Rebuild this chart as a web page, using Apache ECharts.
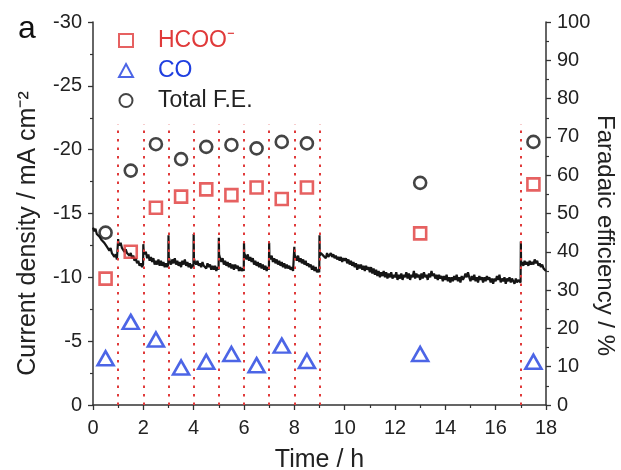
<!DOCTYPE html>
<html>
<head>
<meta charset="utf-8">
<script src="https://cdn.jsdelivr.net/npm/echarts@6/dist/echarts.min.js"></script>
<style>html,body{margin:0;padding:0;background:#fff}#c{width:621px;height:470px}</style>
</head>
<body>
<div id="c"></div>
<script>
// ---- data ----
const sampleTimes = [0.5, 1.5, 2.5, 3.5, 4.5, 5.5, 6.5, 7.5, 8.5, 13, 17.5];
const feHCOO = [33, 40, 51.5, 54.4, 56.3, 54.8, 56.8, 53.8, 56.8, 44.8, 57.6];
const feCO = [12.2, 21.7, 17.1, 9.8, 11.3, 13.3, 10.4, 15.5, 11.5, 13.3, 11.3];
const feTotal = [45, 61.2, 68.1, 64.2, 67.4, 67.9, 67.0, 68.7, 68.3, 58.0, 68.7];
const switchTimes = [1, 2, 3, 4, 5, 6, 7, 8, 9, 17];
const switchLineTop = -22;
const currentDensity = [
[0,-13.9],[0.05,-13.6],[0.1,-13.8],[0.15,-13.4],[0.2,-13.5],[0.25,-13.2],[0.3,-13.3],[0.35,-12.9],[0.4,-13.0],[0.45,-12.7],[0.5,-12.8],[0.55,-12.4],[0.6,-12.5],[0.65,-12.1],[0.7,-12.3],[0.75,-11.9],[0.8,-12.0],[0.85,-11.6],[0.9,-11.8],[0.95,-11.4],[0.99,-11.5],
[1.0,-13.0],[1.01,-12.7],
[1.05,-12.5],[1.1,-12.7],[1.15,-12.3],[1.2,-12.4],[1.25,-12.0],[1.3,-12.2],[1.35,-11.9],[1.4,-12.0],[1.45,-11.7],[1.5,-11.9],[1.55,-11.5],[1.6,-11.7],[1.65,-11.3],[1.7,-11.5],[1.75,-11.1],[1.8,-11.3],[1.85,-10.9],[1.9,-11.1],[1.95,-10.8],[1.99,-11.0],
[2.0,-12.6],[2.01,-12.2],
[2.05,-11.8],[2.1,-12.0],[2.15,-11.5],[2.2,-11.8],[2.25,-11.3],[2.3,-11.6],[2.35,-11.2],[2.4,-11.5],[2.45,-11.0],[2.5,-11.3],[2.55,-11.0],[2.6,-11.4],[2.65,-10.9],[2.7,-11.3],[2.75,-10.9],[2.8,-11.2],[2.85,-10.8],[2.9,-11.1],[2.95,-10.8],[2.99,-11.0],
[3.0,-13.3],[3.01,-11.6],
[3.05,-11.3],[3.1,-11.0],[3.15,-11.4],[3.2,-11.1],[3.25,-11.5],[3.3,-11.0],[3.35,-11.3],[3.4,-10.9],[3.45,-11.2],[3.5,-10.8],[3.55,-11.3],[3.6,-11.0],[3.65,-11.4],[3.7,-10.9],[3.75,-11.2],[3.8,-10.8],[3.85,-11.1],[3.9,-10.7],[3.95,-11.0],[3.99,-10.8],
[4.0,-13.4],[4.01,-11.5],
[4.05,-11.2],[4.1,-11.0],[4.15,-11.3],[4.2,-10.9],[4.25,-11.1],[4.3,-10.8],[4.35,-11.2],[4.4,-10.9],[4.45,-11.0],[4.5,-10.7],[4.55,-11.1],[4.6,-10.8],[4.65,-11.0],[4.7,-10.6],[4.75,-10.9],[4.8,-10.6],[4.85,-10.9],[4.9,-10.5],[4.95,-10.8],[4.99,-10.6],
[5.0,-13.1],[5.01,-11.8],
[5.05,-11.5],[5.1,-11.2],[5.15,-11.5],[5.2,-11.0],[5.25,-11.3],[5.3,-10.9],[5.35,-11.2],[5.4,-10.8],[5.45,-11.1],[5.5,-10.7],[5.55,-11.0],[5.6,-10.6],[5.65,-11.0],[5.7,-10.7],[5.75,-10.9],[5.8,-10.5],[5.85,-10.8],[5.9,-10.5],[5.95,-10.7],[5.99,-10.5],
[6.0,-12.7],[6.01,-11.9],
[6.05,-11.7],[6.1,-11.4],[6.15,-11.8],[6.2,-11.3],[6.25,-11.6],[6.3,-11.2],[6.35,-11.5],[6.4,-11.0],[6.45,-11.3],[6.5,-10.9],[6.55,-11.2],[6.6,-10.8],[6.65,-11.1],[6.7,-10.7],[6.75,-11.0],[6.8,-10.6],[6.85,-10.9],[6.9,-10.5],[6.95,-10.8],[6.99,-10.6],
[7.0,-12.7],[7.01,-11.6],
[7.05,-11.4],[7.1,-11.7],[7.15,-11.2],[7.2,-11.5],[7.25,-11.1],[7.3,-11.4],[7.35,-11.0],[7.4,-11.3],[7.45,-10.9],[7.5,-11.2],[7.55,-10.8],[7.6,-11.1],[7.65,-10.7],[7.7,-11.0],[7.75,-10.7],[7.8,-10.9],[7.85,-10.6],[7.9,-10.8],[7.95,-10.5],[7.99,-10.6],
[8.0,-12.4],[8.01,-11.8],
[8.05,-11.6],[8.1,-11.3],[8.15,-11.7],[8.2,-11.2],[8.25,-11.5],[8.3,-11.1],[8.35,-11.4],[8.4,-11.0],[8.45,-11.3],[8.5,-10.9],[8.55,-11.1],[8.6,-10.8],[8.65,-11.0],[8.7,-10.6],[8.75,-10.9],[8.8,-10.5],[8.85,-10.8],[8.9,-10.4],[8.95,-10.6],[8.99,-10.4],
[9.0,-13.3],[9.01,-11.7],
[9.05,-11.9],[9.1,-12.0],[9.15,-11.7],[9.2,-11.8],[9.25,-11.5],[9.3,-11.9],[9.35,-11.6],[9.4,-11.7],[9.45,-11.9],[9.5,-11.6],[9.55,-11.8],[9.6,-11.5],[9.65,-11.7],[9.7,-11.4],[9.75,-11.6],[9.8,-11.3],[9.85,-11.6],[9.9,-11.2],[9.95,-11.5],
[10.0,-11.3],[10.05,-11.5],[10.1,-11.1],[10.15,-11.4],[10.2,-11.0],[10.25,-11.3],[10.3,-10.9],[10.35,-11.2],[10.4,-10.8],[10.45,-11.1],[10.5,-10.6],[10.55,-11.0],[10.6,-10.7],[10.65,-11.0],[10.7,-10.6],[10.75,-10.9],[10.8,-10.5],[10.85,-10.9],[10.9,-10.6],[10.95,-10.8],
[11.0,-10.4],[11.05,-10.8],[11.1,-10.3],[11.15,-10.7],[11.2,-10.2],[11.25,-10.6],[11.3,-10.1],[11.35,-10.5],[11.4,-10.0],[11.45,-10.4],[11.5,-10.1],[11.55,-10.5],[11.6,-10.0],[11.65,-10.4],[11.7,-9.9],[11.75,-10.3],[11.8,-10.0],[11.85,-10.4],[11.9,-9.9],[11.95,-10.2],
[12.0,-10.0],[12.05,-10.4],[12.1,-9.8],[12.15,-10.2],[12.2,-9.9],[12.25,-10.3],[12.3,-9.8],[12.35,-10.2],[12.4,-10.0],[12.45,-10.4],[12.5,-9.9],[12.55,-10.3],[12.6,-9.8],[12.65,-10.2],[12.7,-10.0],[12.75,-10.5],[12.8,-9.9],[12.85,-10.3],[12.9,-10.0],[12.95,-10.2],
[13.0,-9.8],[13.05,-10.3],[13.1,-9.9],[13.15,-10.4],[13.2,-10.0],[13.25,-10.2],[13.3,-9.8],[13.35,-10.3],[13.4,-10.0],[13.45,-10.5],[13.5,-10.1],[13.55,-10.3],[13.6,-9.9],[13.65,-10.2],[13.7,-9.8],[13.75,-10.2],[13.8,-9.9],[13.85,-10.1],[13.9,-9.7],[13.95,-10.1],
[14.0,-9.8],[14.05,-10.2],[14.1,-9.7],[14.15,-10.0],[14.2,-9.6],[14.25,-10.0],[14.3,-9.7],[14.35,-10.1],[14.4,-9.8],[14.45,-10.2],[14.5,-9.7],[14.55,-10.0],[14.6,-9.6],[14.65,-10.1],[14.7,-9.8],[14.75,-10.0],[14.8,-10.3],[14.85,-10.0],[14.9,-10.4],[14.95,-10.0],
[15.0,-9.7],[15.05,-10.1],[15.1,-9.8],[15.15,-10.2],[15.2,-9.7],[15.25,-10.0],[15.3,-9.6],[15.35,-10.1],[15.4,-9.8],[15.45,-10.0],[15.5,-9.6],[15.55,-10.0],[15.6,-9.7],[15.65,-10.1],[15.7,-9.8],[15.75,-10.0],[15.8,-9.6],[15.85,-9.9],[15.9,-9.5],[15.95,-9.9],
[16.0,-9.7],[16.05,-10.1],[16.1,-9.8],[16.15,-10.2],[16.2,-9.6],[16.25,-9.9],[16.3,-9.7],[16.35,-10.0],[16.4,-9.5],[16.45,-9.9],[16.5,-9.7],[16.55,-10.0],[16.6,-9.6],[16.65,-9.9],[16.7,-9.7],[16.75,-9.5],[16.8,-9.9],[16.85,-9.6],[16.9,-9.8],[16.99,-9.6],
[17.0,-12.8],[17.01,-11.0],
[17.05,-11.2],[17.1,-10.9],[17.15,-11.3],[17.2,-11.0],[17.25,-11.2],[17.3,-10.9],[17.35,-11.3],[17.4,-11.0],[17.45,-11.2],[17.5,-11.0],[17.55,-11.4],[17.6,-11.1],[17.65,-11.3],[17.7,-10.9],[17.75,-11.1],[17.8,-10.8],[17.85,-11.0],[17.9,-10.7],[17.95,-10.8],[18.0,-10.5]
];
const seriesNames = ['HCOO\u207B', 'CO', 'Total F.E.'];

// ---- styles ----
const RED = '#e03a3a', BLUE = '#1f3fe0', BLACK = '#151515', AX = '#333';
const FONT = 'Liberation Sans, Arial, sans-serif';

const chart = echarts.init(document.getElementById('c'), null, {renderer: 'canvas'});
const pair = (ys) => sampleTimes.map((t, i) => [t, ys[i]]);
const hollow = (c) => ({color: 'rgba(255,255,255,0)', borderColor: c, borderWidth: 2.6});
const axisCommon = {
  axisLine: {show: true, lineStyle: {color: AX, width: 1.5}},
  axisTick: {show: true, inside: false, length: 5, lineStyle: {color: AX, width: 1.3}},
  minorTick: {show: true, splitNumber: 2, length: 3, lineStyle: {color: AX, width: 1.2}},
  splitLine: {show: false},
  axisLabel: {color: '#222', fontSize: 20, fontFamily: FONT, margin: 11},
  nameLocation: 'middle',
  nameMoveOverlap: false
};
const nameStyle = (size, pad) => ({color: '#222', fontSize: size, fontFamily: FONT, padding: pad});

chart.setOption({
  animation: false,
  backgroundColor: '#fff',
  grid: {left: 93, right: 75, top: 22, bottom: 65, outerBoundsMode: 'none', containLabel: false},
  title: {text: 'a', left: 13, top: 8, textStyle: {fontSize: 32, fontWeight: 'normal', color: '#111', fontFamily: FONT}},
  legend: {
    orient: 'vertical', left: 118, top: 29, padding: 0, itemGap: 7,
    itemWidth: 14, itemHeight: 13, selectedMode: false,
    textStyle: {fontSize: 23, fontFamily: FONT, padding: [0, 0, 0, 20]},
    data: [
      {name: seriesNames[0], textStyle: {color: RED}},
      {name: seriesNames[1], textStyle: {color: BLUE}},
      {name: seriesNames[2], textStyle: {color: '#222'}}
    ]
  },
  xAxis: Object.assign({}, axisCommon, {
    type: 'value', min: 0, max: 18, interval: 2,
    axisLabel: Object.assign({}, axisCommon.axisLabel, {margin: 13}),
    name: 'Time / h', nameGap: 43, nameTextStyle: nameStyle(25, 0)
  }),
  yAxis: [
    Object.assign({}, axisCommon, {
      type: 'value', min: -30, max: 0, interval: 5, inverse: true, position: 'left',
      name: 'Current density / mA cm\u207B\u00B2', nameGap: 52, nameTextStyle: nameStyle(25, [0, 40, 0, 0])
    }),
    Object.assign({}, axisCommon, {
      type: 'value', min: 0, max: 100, interval: 10, position: 'right',
      name: 'Faradaic efficiency / %', nameGap: 47, nameRotate: -90, nameTextStyle: nameStyle(24, [0, 0, 0, 44])
    })
  ],
  series: [
    {
      name: 'j', type: 'line', yAxisIndex: 0, data: currentDensity,
      showSymbol: false, symbol: 'none', silent: true, z: 1,
      lineStyle: {color: BLACK, width: 2.2},
      markLine: {
        silent: true, symbol: 'none', label: {show: false},
        lineStyle: {color: RED, type: [2.5, 6], width: 2},
        data: switchTimes.map(t => [{coord: [t, 0]}, {coord: [t, switchLineTop]}])
      }
    },
    {name: seriesNames[0], type: 'scatter', yAxisIndex: 1, data: pair(feHCOO), symbol: 'rect', symbolSize: 12, itemStyle: hollow(RED), z: 3},
    {name: seriesNames[1], type: 'scatter', yAxisIndex: 1, data: pair(feCO), symbol: 'triangle', symbolSize: [16, 14], itemStyle: hollow(BLUE), z: 3},
    {name: seriesNames[2], type: 'scatter', yAxisIndex: 1, data: pair(feTotal), symbol: 'circle', symbolSize: 12, itemStyle: hollow(BLACK), z: 3}
  ]
});
</script>
</body>
</html>
